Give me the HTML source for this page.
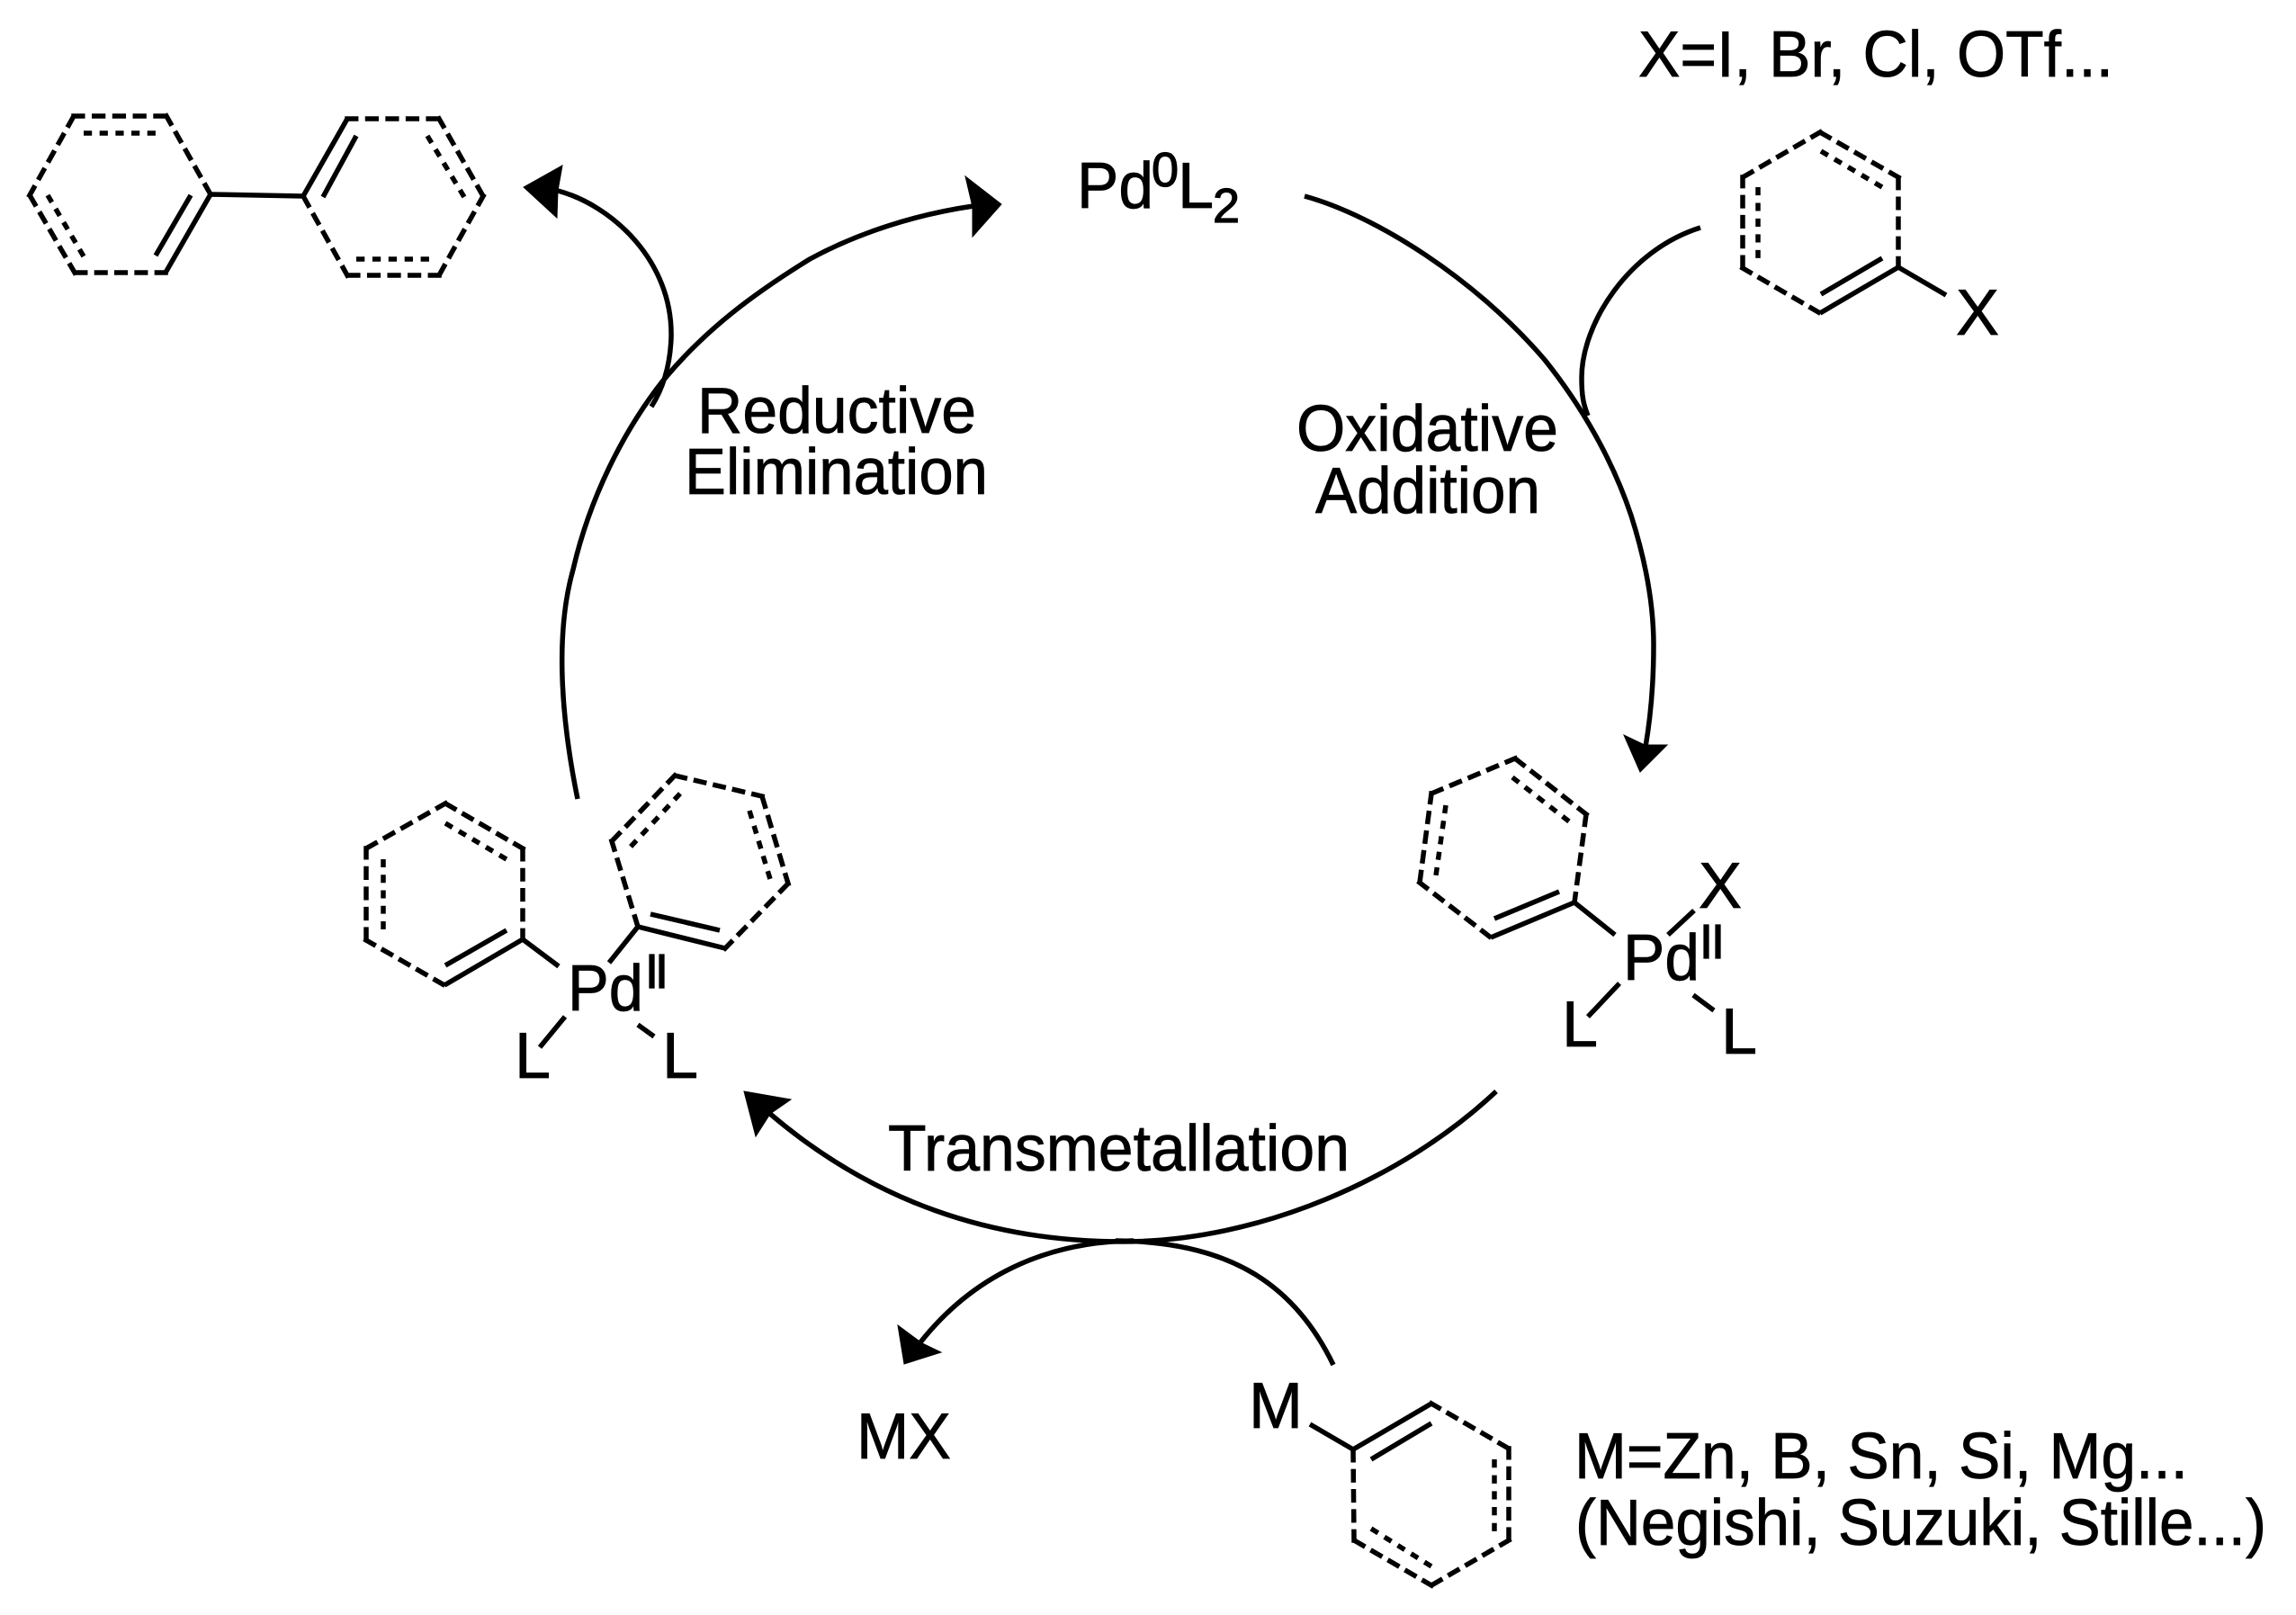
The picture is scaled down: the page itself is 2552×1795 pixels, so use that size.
<!DOCTYPE html>
<html><head><meta charset="utf-8"><style>
html,body{margin:0;padding:0;background:#fff}
svg{display:block}
text{font-family:"Liberation Sans",sans-serif;font-size:72px;fill:#000;stroke:#000;stroke-width:.8px}
.s{font-size:54px;stroke:#000;stroke-width:1.2px}
</style></head><body>
<svg width="2552" height="1795" viewBox="0 0 2552 1795" xmlns="http://www.w3.org/2000/svg">
<rect width="2552" height="1795" fill="#fff"/>

<!-- solid bonds -->
<g stroke="#000" stroke-width="5.5" fill="none" stroke-linecap="butt" stroke-linejoin="miter">
<polyline points="184,303 234,216 337,218 386,132"/>
<line x1="212" y1="217" x2="173" y2="284"/>
<line x1="396" y1="151" x2="359" y2="219"/>
<polyline points="2023,348 2110,297 2163,328"/>
<line x1="2092" y1="287" x2="2024" y2="327"/>
<polyline points="1657,1042 1750,1003 1795,1039"/>
<line x1="1661" y1="1021" x2="1733" y2="991"/>
<line x1="1854" y1="1039" x2="1883" y2="1012"/>
<line x1="1800" y1="1093" x2="1765" y2="1130"/>
<line x1="1882" y1="1106" x2="1905" y2="1123"/>
<polyline points="494,1095 581,1044 621,1074"/>
<line x1="495" y1="1073" x2="563" y2="1034"/>
<polyline points="806,1054 709,1030 677,1070"/>
<line x1="723" y1="1016" x2="800" y2="1034"/>
<line x1="628" y1="1130" x2="600" y2="1164"/>
<line x1="709" y1="1139" x2="727" y2="1152"/>
<polyline points="1456,1583 1504,1611 1591,1560"/>
<line x1="1591" y1="1582" x2="1524" y2="1622"/>
</g>

<!-- outer dashed ring edges -->
<g stroke="#000" stroke-width="5.5" fill="none" stroke-linecap="square" stroke-dasharray="9.5 12.6">
<line pathLength="100" x1="184" y1="303" x2="83" y2="303"/>
<line pathLength="100" x1="83" y1="303" x2="33" y2="217"/>
<line pathLength="100" x1="33" y1="217" x2="82" y2="129"/>
<line pathLength="100" x1="82" y1="129" x2="185" y2="129"/>
<line pathLength="100" x1="185" y1="129" x2="234" y2="216"/>
<line pathLength="100" x1="386" y1="132" x2="488" y2="132"/>
<line pathLength="100" x1="488" y1="132" x2="537" y2="218"/>
<line pathLength="100" x1="537" y1="218" x2="488" y2="306"/>
<line pathLength="100" x1="488" y1="306" x2="386" y2="306"/>
<line pathLength="100" x1="386" y1="306" x2="337" y2="218"/>

<line pathLength="100" x1="2110" y1="297" x2="2110" y2="197"/>
<line pathLength="100" x1="2110" y1="197" x2="2023" y2="147"/>
<line pathLength="100" x1="2023" y1="147" x2="1937" y2="197"/>
<line pathLength="100" x1="1937" y1="197" x2="1937" y2="298"/>
<line pathLength="100" x1="1937" y1="298" x2="2023" y2="348"/>

<line pathLength="100" x1="1750" y1="1003" x2="1763" y2="905"/>
<line pathLength="100" x1="1763" y1="905" x2="1684" y2="843"/>
<line pathLength="100" x1="1684" y1="843" x2="1591" y2="882"/>
<line pathLength="100" x1="1591" y1="882" x2="1578" y2="981"/>
<line pathLength="100" x1="1578" y1="981" x2="1657" y2="1042"/>

<line pathLength="100" x1="581" y1="1044" x2="581" y2="943"/>
<line pathLength="100" x1="581" y1="943" x2="495" y2="893"/>
<line pathLength="100" x1="495" y1="893" x2="407" y2="943"/>
<line pathLength="100" x1="407" y1="943" x2="407" y2="1045"/>
<line pathLength="100" x1="407" y1="1045" x2="494" y2="1095"/>

<line pathLength="100" x1="806" y1="1054" x2="876" y2="982"/>
<line pathLength="100" x1="876" y1="982" x2="847" y2="885"/>
<line pathLength="100" x1="847" y1="885" x2="750" y2="862"/>
<line pathLength="100" x1="750" y1="862" x2="680" y2="935"/>
<line pathLength="100" x1="680" y1="935" x2="709" y2="1030"/>

<line pathLength="100" x1="1591" y1="1560" x2="1677" y2="1610"/>
<line pathLength="100" x1="1677" y1="1610" x2="1677" y2="1712"/>
<line pathLength="100" x1="1677" y1="1712" x2="1591" y2="1762"/>
<line pathLength="100" x1="1591" y1="1762" x2="1505" y2="1712"/>
<line pathLength="100" x1="1505" y1="1712" x2="1504" y2="1611"/>
</g>

<!-- inner dashed bonds -->
<g stroke="#000" stroke-width="5.5" fill="none" stroke-dasharray="11.5 10.6">
<line pathLength="100" x1="93" y1="148" x2="173" y2="148"/>
<line pathLength="100" x1="53" y1="217" x2="93" y2="285"/>
<line pathLength="100" x1="475" y1="151" x2="516" y2="219"/>
<line pathLength="100" x1="396" y1="288" x2="477" y2="288"/>
<line pathLength="100" x1="1954" y1="208" x2="1954" y2="287"/>
<line pathLength="100" x1="2024" y1="168" x2="2092" y2="208"/>
<line pathLength="100" x1="1607" y1="895" x2="1596" y2="973"/>
<line pathLength="100" x1="1681" y1="864" x2="1744" y2="913"/>
<line pathLength="100" x1="426" y1="955" x2="426" y2="1033"/>
<line pathLength="100" x1="495" y1="915" x2="563" y2="955"/>
<line pathLength="100" x1="833" y1="901" x2="856" y2="977"/>
<line pathLength="100" x1="756" y1="882" x2="701" y2="941"/>
<line pathLength="100" x1="1661" y1="1622" x2="1661" y2="1702"/>
<line pathLength="100" x1="1524" y1="1699" x2="1591" y2="1741"/>
</g>

<!-- curved arrows -->
<g stroke="#000" stroke-width="5.5" fill="none">
<path d="M642 888C622 790 618 700 637 633C655 555 692 480 737 423C785 365 840 325 900 288C955 258 1020 238 1082 229"/>
<path d="M1450 218C1530 240 1640 310 1717 400C1757 450 1792 510 1813 573C1828 620 1838 670 1838 717C1838 760 1835 795 1829 830"/>
<path d="M1663 1213C1560 1310 1400 1380 1248 1380C1100 1380 970 1335 856 1238"/>
<path d="M1260 1379C1160 1380 1080 1420 1023 1492"/>
<path d="M1482 1517C1440 1430 1370 1380 1240 1379"/>
<path d="M1890 253C1810 278 1758 360 1758 420C1758 440 1760 450 1765 462"/>
<path d="M620 212C680 228 748 290 746 375C745 405 738 430 724 452"/>
</g>

<!-- arrowheads -->
<g fill="#000" stroke="#000" stroke-width="1">
<polygon points="582,208 625,184 620,212 619,242"/>
<polygon points="1113,227 1073,196 1081,230 1081,263"/>
<polygon points="1823,858 1805,817 1828,828 1853,828"/>
<polygon points="827,1213 879,1222 856,1238 840,1263"/>
<polygon points="1005,1516 998,1473 1025,1493 1046,1503"/>
</g>

<!-- labels -->
<text x="1821" y="85" textLength="528" lengthAdjust="spacingAndGlyphs">X=I, Br, Cl, OTf...</text>
<text x="2174" y="372" textLength="48" lengthAdjust="spacingAndGlyphs">X</text>

<text x="1197" y="231" textLength="85" lengthAdjust="spacingAndGlyphs">Pd</text>
<text class="s" x="1280" y="207">0</text>
<text x="1309" y="231">L</text>
<text class="s" x="1348" y="247">2</text>

<text x="775" y="481" textLength="310" lengthAdjust="spacingAndGlyphs">Reductive</text>
<text x="761" y="549" textLength="337" lengthAdjust="spacingAndGlyphs">Elimination</text>
<text x="1441" y="501" textLength="291" lengthAdjust="spacingAndGlyphs">Oxidative</text>
<text x="1462" y="570" textLength="250" lengthAdjust="spacingAndGlyphs">Addition</text>
<text x="987" y="1301" textLength="513" lengthAdjust="spacingAndGlyphs">Transmetallation</text>

<text x="1804" y="1089" textLength="85" lengthAdjust="spacingAndGlyphs">Pd</text>
<text class="s" x="1889 1902" y="1065">II</text>
<text x="1888" y="1009" textLength="48" lengthAdjust="spacingAndGlyphs">X</text>
<text x="1736" y="1163">L</text>
<text x="1913" y="1171">L</text>

<text x="631" y="1123" textLength="84" lengthAdjust="spacingAndGlyphs">Pd</text>
<text class="s" x="717 728" y="1098">II</text>
<text x="572" y="1198">L</text>
<text x="736" y="1198">L</text>

<text x="952" y="1621" textLength="105" lengthAdjust="spacingAndGlyphs">MX</text>
<text x="1388" y="1587" textLength="60" lengthAdjust="spacingAndGlyphs">M</text>
<text x="1750" y="1643" textLength="682" lengthAdjust="spacingAndGlyphs">M=Zn, B, Sn, Si, Mg...</text>
<text x="1751" y="1717" textLength="768" lengthAdjust="spacingAndGlyphs">(Negishi, Suzuki, Stille...)</text>
</svg>
</body></html>
